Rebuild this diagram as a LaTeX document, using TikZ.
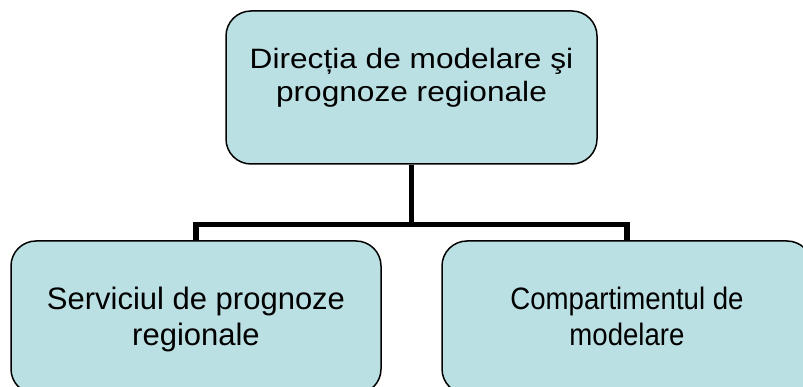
\documentclass[tikz,border=0pt]{standalone}
\usepackage{graphicx}
\usepackage{fontspec}
\setmainfont{Liberation Sans}
\definecolor{boxfill}{RGB}{187,224,227}
\tikzset{
  orgbox/.style={draw=black, line width=1.5pt, fill=boxfill, rounded corners=25pt, inner sep=0pt},
  toptext/.style={font=\fontsize{28}{33}\selectfont, inner sep=0pt, anchor=base},
  subtext/.style={font=\fontsize{31}{36}\selectfont, inner sep=0pt, anchor=base},
  conn/.style={draw=black, line width=5.5pt, line join=miter}
}
\begin{document}
\begin{tikzpicture}[x=1pt,y=-1pt]
\clip (0,0) rectangle (803,387);
\fill[white] (0,0) rectangle (803,387);
\node[orgbox, minimum width=371pt, minimum height=153pt] (dir) at (411.5,87.5) {};
\node[orgbox, minimum width=370pt, minimum height=153pt] (serv) at (196,317.5) {};
\node[orgbox, minimum width=370pt, minimum height=153pt] (comp) at (627,317.5) {};
\coordinate (jn) at (411.5,224.5);
\draw[conn] (dir.south) -- (jn);
\draw[conn] (serv.north) |- (jn) -| (comp.north);
\node[toptext] (dirA) at (411.5,69) {\scalebox{1.13}[1]{Direcția de modelare şi}};
\node[toptext] (dirB) at (411.5,102) {\scalebox{1.13}[1]{prognoze regionale}};
\node[subtext] (servA) at (196,309) {Serviciul de prognoze};
\node[subtext] (servB) at (196,345) {regionale};
\node[subtext] (compA) at (627,309) {\scalebox{0.89}[1]{Compartimentul de}};
\node[subtext] (compB) at (627,345) {\scalebox{0.89}[1]{modelare}};
\end{tikzpicture}
\end{document}
